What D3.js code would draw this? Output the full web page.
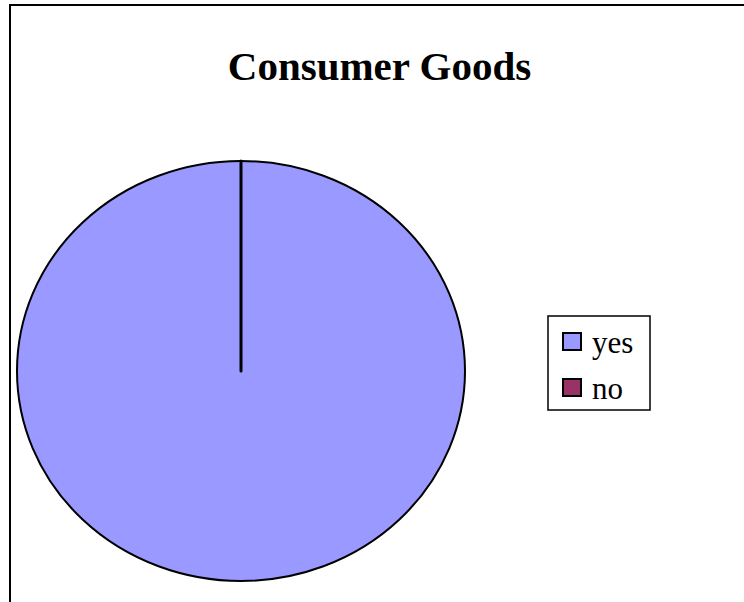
<!DOCTYPE html>
<html>
<head>
<meta charset="utf-8">
<script src="https://cdn.jsdelivr.net/npm/d3@7"></script>
<style>
  html, body { margin: 0; padding: 0; background: #fff; }
  svg { display: block; }
</style>
</head>
<body>
<svg id="chart" width="744" height="602"></svg>
<script>
// Chart data
const chartTitle = "Consumer Goods";
const categories = ["yes", "no"];
const values = [100, 0];
const colors = ["#9999FF", "#993366"];

const svg = d3.select("#chart");
const font = "'Liberation Serif', 'Times New Roman', serif";

// Outer frame of the chart area
svg.append("rect")
  .attr("x", 10).attr("y", 5)
  .attr("width", 760).attr("height", 620)
  .attr("fill", "#fff")
  .attr("stroke", "#000")
  .attr("stroke-width", 2);

// Title
svg.append("text")
  .attr("x", 379.5).attr("y", 80)
  .attr("text-anchor", "middle")
  .attr("font-family", font)
  .attr("font-weight", "bold")
  .attr("font-size", 41)
  .text(chartTitle);

// Pie (slightly flattened vertically)
const cx = 241, cy = 371, rx = 224, ry = 210;
const color = d3.scaleOrdinal().domain(categories).range(colors);
const pie = d3.pie().sort(null).value(d => d.value);
const arc = d3.arc().innerRadius(0).outerRadius(rx);
const data = categories.map((c, i) => ({ name: c, value: values[i] }));

const g = svg.append("g")
  .attr("transform", `translate(${cx},${cy}) scale(1,${ry / rx})`);

g.selectAll("path.slice")
  .data(pie(data))
  .join("path")
  .attr("class", "slice")
  .attr("d", arc)
  .attr("fill", d => color(d.data.name))
  .attr("stroke", "#000")
  .attr("stroke-width", d => d.data.value === 0 ? 3 : 2)
  .attr("vector-effect", "non-scaling-stroke")
  .attr("stroke-linejoin", "round");

// Legend
const legend = svg.append("g").attr("transform", "translate(548,316)");
legend.append("rect")
  .attr("x", 0).attr("y", 0)
  .attr("width", 102).attr("height", 94)
  .attr("fill", "#fff")
  .attr("stroke", "#000")
  .attr("stroke-width", 1.5);

const item = legend.selectAll("g.item")
  .data(categories)
  .join("g")
  .attr("class", "item")
  .attr("transform", (d, i) => `translate(0,${i * 46})`);

item.append("rect")
  .attr("x", 15).attr("y", 17)
  .attr("width", 18).attr("height", 17)
  .attr("fill", d => color(d))
  .attr("stroke", "#000")
  .attr("stroke-width", 2);

item.append("text")
  .attr("x", 44).attr("y", 37)
  .attr("font-family", font)
  .attr("font-size", 31)
  .text(d => d);
</script>
</body>
</html>
